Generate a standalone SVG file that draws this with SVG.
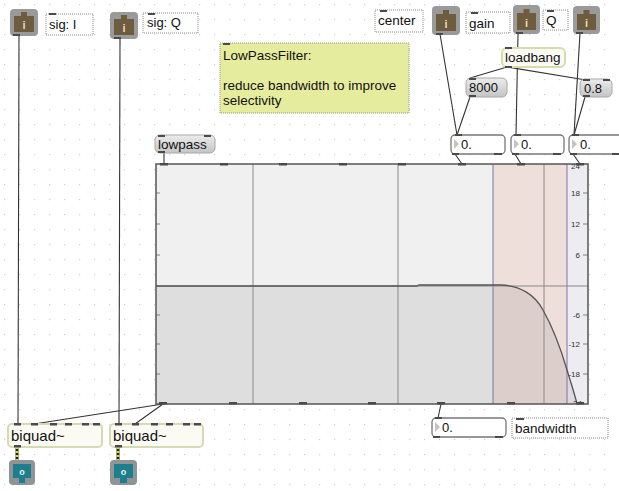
<svg xmlns="http://www.w3.org/2000/svg" width="619" height="491" viewBox="0 0 619 491">
<defs>
<pattern id="grid" x="4" y="4" width="15" height="15" patternUnits="userSpaceOnUse">
<rect x="0" y="0" width="1.2" height="1.2" fill="#cfcfcf"/>
</pattern>
<linearGradient id="msg" x1="0" y1="0" x2="0" y2="1">
<stop offset="0" stop-color="#ececec"/>
<stop offset="1" stop-color="#c4c4c4"/>
</linearGradient>
<clipPath id="fgclip"><rect x="156" y="164" width="432" height="240"/></clipPath>
</defs>
<style>
text{font-family:"Liberation Sans",Arial,sans-serif;fill:#111}
.t{font-size:13.5px}
.c{font-size:13.5px}
.s{font-size:13px}
.lbl{font-size:8px;fill:#333}
.cmt{fill:#fff;stroke:#8a8a8a;stroke-width:1;stroke-dasharray:1 1}
.io{fill:#4a4a4a}
.msgb{fill:url(#msg);stroke:#a8a8a8;stroke-width:1}
.num{fill:#fff;stroke:#777;stroke-width:1.3}
.tri{fill:#c4c4c4}
.cord{stroke:#333;stroke-width:1.1;fill:none}
.btn{fill:#9a9a9a}
.ibtn{fill:#6e5c3e}
.obtn{fill:#8e9597}
.oin{fill:#1f7e8e}
.gl{stroke:#8a8a8a;stroke-width:1}
.bl{stroke:#7777aa;stroke-width:1}
.tick{stroke:#666;stroke-width:0.8}
.ig{font-size:11px;font-weight:bold;fill:#eadbb6}
</style>
<rect width="619" height="491" fill="#fff"/>
<rect width="619" height="491" fill="url(#grid)"/>

<g id="connectors">
<line class="cord" x1="19" y1="36" x2="18" y2="424"/>
<line class="cord" x1="120" y1="39" x2="119" y2="424"/>
<line class="cord" x1="163" y1="404" x2="34" y2="424"/>
<line class="cord" x1="163" y1="404" x2="135" y2="424"/>
<line class="cord" x1="164" y1="153" x2="164" y2="164"/>
<line class="cord" x1="440" y1="34" x2="457" y2="135"/>
<line class="cord" x1="470" y1="97" x2="457" y2="135"/>
<line class="cord" x1="518" y1="34" x2="516" y2="135"/>
<line class="cord" x1="580" y1="33" x2="574" y2="135"/>
<line class="cord" x1="585" y1="97" x2="574" y2="135"/>
<line class="cord" x1="507" y1="67" x2="470" y2="78"/>
<line class="cord" x1="507" y1="67" x2="586" y2="80"/>
<line class="cord" x1="455" y1="154" x2="462" y2="164"/>
<line class="cord" x1="515" y1="154" x2="521" y2="164"/>
<line class="cord" x1="573" y1="154" x2="580" y2="164"/>
<line class="cord" x1="441" y1="404" x2="438" y2="418"/>
<line x1="17" y1="447" x2="17" y2="461" stroke="#222" stroke-width="3"/>
<line x1="17" y1="447" x2="17" y2="461" stroke="#d2d84a" stroke-width="3" stroke-dasharray="2 2"/>
<line x1="118" y1="447" x2="118" y2="461" stroke="#222" stroke-width="3"/>
<line x1="118" y1="447" x2="118" y2="461" stroke="#d2d84a" stroke-width="3" stroke-dasharray="2 2"/>
</g>

<g id="inlet1">
<rect class="btn" x="10" y="9" width="28" height="27" rx="4"/>
<path class="ibtn" d="M14,16 h7 v-4 h6 v4 h7 v16 h-20 z"/>
<text class="ig" x="24" y="29" text-anchor="middle">i</text>
<rect class="io" x="13" y="34" width="7" height="2"/>
</g>
<g id="comment_sigI">
<rect class="cmt" x="46" y="14" width="47" height="21"/>
<rect class="io" x="49" y="13" width="7" height="2"/>
<text class="s" x="49" y="29">sig: I</text>
</g>
<g id="inlet2">
<rect class="btn" x="110" y="12" width="28" height="27" rx="4"/>
<path class="ibtn" d="M114,19 h7 v-4 h6 v4 h7 v16 h-20 z"/>
<text class="ig" x="124" y="32" text-anchor="middle">i</text>
<rect class="io" x="114" y="37" width="7" height="2"/>
</g>
<g id="comment_sigQ">
<rect class="cmt" x="143" y="13" width="55" height="20"/>
<rect class="io" x="148" y="13" width="7" height="2"/>
<text class="s" x="147" y="27">sig: Q</text>
</g>

<g id="comment_lowpass">
<rect x="220" y="43" width="189" height="70" fill="#e6ec9e" stroke="#9a9a7a" stroke-width="1" stroke-dasharray="1 1"/>
<rect class="io" x="223" y="43" width="7" height="2"/>
<text class="t" x="223" y="60">LowPassFilter:</text>
<text class="t" x="223" y="90">reduce bandwidth to improve</text>
<text class="t" x="223" y="105">selectivity</text>
</g>

<g id="comment_center">
<rect class="cmt" x="375" y="10" width="48" height="22"/>
<rect class="io" x="380" y="10" width="7" height="2"/>
<text class="c" x="378" y="25">center</text>
</g>
<g id="inlet_center">
<rect class="btn" x="432" y="6" width="28" height="29" rx="4"/>
<path class="ibtn" d="M436,14 h7 v-4 h6 v4 h7 v17 h-20 z"/>
<text class="ig" x="446" y="28" text-anchor="middle">i</text>
<rect class="io" x="436" y="33" width="7" height="2"/>
</g>
<g id="comment_gain">
<rect class="cmt" x="466" y="12" width="44" height="21"/>
<rect class="io" x="471" y="12" width="7" height="2"/>
<text class="c" x="469" y="28">gain</text>
</g>
<g id="inlet_gain">
<rect class="btn" x="513" y="5" width="27" height="29" rx="4"/>
<path class="ibtn" d="M517,13 h6.5 v-4 h6 v4 h6.5 v17 h-19 z"/>
<text class="ig" x="526.5" y="27" text-anchor="middle">i</text>
<rect class="io" x="516" y="32" width="7" height="2"/>
</g>
<g id="comment_Q">
<rect class="cmt" x="543" y="10" width="25" height="20"/>
<rect class="io" x="547" y="10" width="7" height="2"/>
<text class="c" x="546" y="25">Q</text>
</g>
<g id="inlet_Q">
<rect class="btn" x="573" y="6" width="27" height="28" rx="4"/>
<path class="ibtn" d="M577,14 h6.5 v-4 h6 v4 h6.5 v16 h-19 z"/>
<text class="ig" x="586.5" y="27" text-anchor="middle">i</text>
<rect class="io" x="576" y="32" width="7" height="2"/>
</g>

<g id="loadbang">
<rect x="502" y="48" width="63" height="19" rx="5" fill="#fafaf2" stroke="#d6dcae" stroke-width="2"/>
<rect class="io" x="505" y="47" width="7" height="2"/>
<rect class="io" x="505" y="66" width="7" height="2"/>
<text class="t" x="505" y="62">loadbang</text>
</g>
<g id="msg_8000">
<rect class="msgb" x="466" y="78" width="41" height="19" rx="5"/>
<rect class="io" x="469" y="78" width="7" height="2"/>
<rect class="io" x="469" y="95" width="7" height="2"/>
<text class="s" x="469" y="92">8000</text>
</g>
<g id="msg_08">
<rect class="msgb" x="580" y="79" width="32" height="18" rx="5"/>
<rect class="io" x="583" y="79" width="7" height="2"/>
<rect class="io" x="603" y="79" width="7" height="2"/>
<rect class="io" x="583" y="95" width="7" height="2"/>
<text class="s" x="584" y="93">0.8</text>
</g>

<g id="msg_lowpass">
<rect class="msgb" x="155" y="135" width="60" height="18" rx="5"/>
<rect class="io" x="158" y="135" width="7" height="2"/>
<rect class="io" x="204" y="135" width="7" height="2"/>
<rect class="io" x="158" y="151" width="7" height="2"/>
<text class="t" x="158" y="149">lowpass</text>
</g>

<g id="num_center">
<rect class="num" x="451" y="135" width="54" height="19" rx="4"/>
<path class="tri" d="M454,139 l5,5 l-5,5 z"/>
<rect class="io" x="455" y="134" width="7" height="2"/>
<rect class="io" x="452" y="153" width="7" height="2"/>
<rect class="io" x="494" y="153" width="8" height="2"/>
<text class="s" x="461" y="149">0.</text>
</g>
<g id="num_gain">
<rect class="num" x="511" y="135" width="53" height="19" rx="4"/>
<path class="tri" d="M514,139 l5,5 l-5,5 z"/>
<rect class="io" x="514" y="134" width="7" height="2"/>
<rect class="io" x="512" y="153" width="7" height="2"/>
<rect class="io" x="553" y="153" width="8" height="2"/>
<text class="s" x="521" y="149">0.</text>
</g>
<g id="num_Q">
<rect class="num" x="569" y="135" width="54" height="19" rx="4"/>
<path class="tri" d="M572,139 l5,5 l-5,5 z"/>
<rect class="io" x="572" y="134" width="7" height="2"/>
<rect class="io" x="570" y="153" width="7" height="2"/>
<rect class="io" x="612" y="153" width="8" height="2"/>
<text class="s" x="580" y="149">0.</text>
</g>

<g id="filtergraph">
<g clip-path="url(#fgclip)">
<rect x="156" y="164" width="432" height="240" fill="#f0f0f0"/>
<rect x="493" y="164" width="74" height="240" fill="#eedfdb"/>
<rect x="567" y="164" width="21" height="240" fill="#ececf1"/>
<path d="M156,286 L417,286 L419,285 L500,285 C520,285 535,295 543,310 C552,326 560,346 567,370 C571,383 575,395 577,404 L156,404 Z" fill="#000" fill-opacity="0.075"/>
<line class="gl" x1="253" y1="164" x2="253" y2="404"/>
<line class="gl" x1="398" y1="164" x2="398" y2="404"/>
<line class="gl" x1="544" y1="164" x2="544" y2="404"/>
<line class="bl" x1="493" y1="164" x2="493" y2="404"/>
<line class="bl" x1="567" y1="164" x2="567" y2="404"/>
<line x1="156" y1="286" x2="588" y2="286" stroke="#8a8a8a" stroke-width="1"/>
<path d="M156,286 L417,286 L419,285 L500,285 C520,285 535,295 543,310 C552,326 560,346 567,370 C571,383 575,395 577,404" fill="none" stroke="#555" stroke-width="1.3"/>
<g class="tick">
<line x1="156" y1="193" x2="160" y2="193"/><line x1="156" y1="224" x2="160" y2="224"/><line x1="156" y1="255" x2="160" y2="255"/>
<line x1="156" y1="315" x2="160" y2="315"/><line x1="156" y1="344" x2="160" y2="344"/><line x1="156" y1="374" x2="160" y2="374"/>
<line x1="583" y1="193" x2="588" y2="193"/><line x1="583" y1="224" x2="588" y2="224"/><line x1="583" y1="255" x2="588" y2="255"/>
<line x1="583" y1="315" x2="588" y2="315"/><line x1="583" y1="344" x2="588" y2="344"/><line x1="583" y1="374" x2="588" y2="374"/>
</g>
<text class="lbl" x="580" y="196" text-anchor="end">18</text>
<text class="lbl" x="580" y="227" text-anchor="end">12</text>
<text class="lbl" x="580" y="258" text-anchor="end">6</text>
<text class="lbl" x="580" y="318" text-anchor="end">-6</text>
<text class="lbl" x="580" y="347" text-anchor="end">-12</text>
<text class="lbl" x="580" y="377" text-anchor="end">-18</text>
<text class="lbl" x="580" y="169" text-anchor="end">24</text>
<text class="lbl" x="582" y="406" text-anchor="end">-24</text>
</g>
<rect x="156" y="164" width="432" height="240" fill="none" stroke="#555" stroke-width="1.5"/>
<g class="io">
<rect x="160" y="163" width="8" height="2.5"/><rect x="220" y="163" width="8" height="2.5"/><rect x="279" y="163" width="8" height="2.5"/><rect x="339" y="163" width="8" height="2.5"/>
<rect x="398" y="163" width="8" height="2.5"/><rect x="458" y="163" width="8" height="2.5"/><rect x="517" y="163" width="8" height="2.5"/><rect x="576" y="163" width="8" height="2.5"/>
<rect x="159" y="402" width="8" height="2.5"/><rect x="229" y="402" width="8" height="2.5"/><rect x="299" y="402" width="8" height="2.5"/><rect x="368" y="402" width="8" height="2.5"/>
<rect x="437" y="402" width="8" height="2.5"/><rect x="507" y="402" width="8" height="2.5"/><rect x="576" y="402" width="8" height="2.5"/>
</g>
</g>

<g id="num_bandwidth">
<rect class="num" x="432" y="418" width="74" height="19" rx="4"/>
<path class="tri" d="M435,422 l5,5 l-5,5 z"/>
<rect class="io" x="435" y="417" width="7" height="2"/>
<rect class="io" x="433" y="436" width="7" height="2"/>
<rect class="io" x="495" y="436" width="8" height="2"/>
<text class="s" x="442" y="432">0.</text>
</g>
<g id="comment_bandwidth">
<rect class="cmt" x="512" y="418" width="96" height="20"/>
<rect class="io" x="516" y="418" width="8" height="2"/>
<text class="c" x="515" y="433">bandwidth</text>
</g>

<g id="biquad1">
<rect x="8" y="424" width="94" height="23" rx="4" fill="#fbfbf3" stroke="#d6dab4" stroke-width="2"/>
<g class="io"><rect x="14" y="423" width="7" height="2.5"/><rect x="31" y="423" width="7" height="2.5"/><rect x="50" y="423" width="7" height="2.5"/><rect x="65" y="423" width="7" height="2.5"/><rect x="82" y="423" width="7" height="2.5"/><rect x="93" y="423" width="7" height="2.5"/><rect x="14" y="445" width="7" height="2.5"/></g>
<text x="11" y="441" style="font-size:15px">biquad~</text>
</g>
<g id="biquad2">
<rect x="110" y="424" width="93" height="23" rx="4" fill="#fbfbf3" stroke="#d6dab4" stroke-width="2"/>
<g class="io"><rect x="115" y="423" width="7" height="2.5"/><rect x="132" y="423" width="7" height="2.5"/><rect x="151" y="423" width="7" height="2.5"/><rect x="166" y="423" width="7" height="2.5"/><rect x="183" y="423" width="7" height="2.5"/><rect x="194" y="423" width="7" height="2.5"/><rect x="115" y="445" width="7" height="2.5"/></g>
<text x="113" y="441" style="font-size:15px">biquad~</text>
</g>

<g id="outlet1">
<rect class="obtn" x="9" y="460" width="26" height="25" rx="4"/>
<path class="oin" d="M13,464 h18 v14 h-6 v5 h-6 v-5 h-6 z"/>
<text x="22" y="475" font-size="9" font-weight="bold" style="fill:#eee" text-anchor="middle">o</text>
</g>
<g id="outlet2">
<rect class="obtn" x="110" y="460" width="27" height="25" rx="4"/>
<path class="oin" d="M114,464 h19 v14 h-6 v5 h-7 v-5 h-6 z"/>
<text x="123.5" y="475" font-size="9" font-weight="bold" style="fill:#eee" text-anchor="middle">o</text>
</g>
</svg>
